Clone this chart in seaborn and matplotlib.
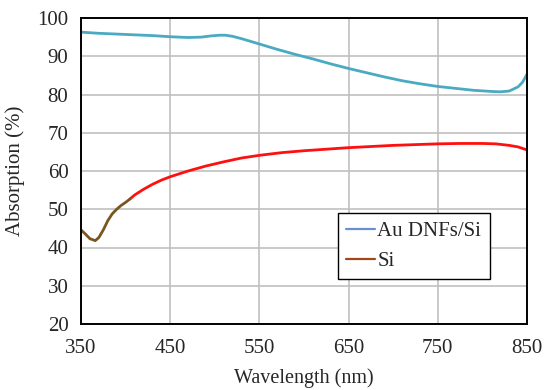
import numpy as np
import pandas as pd
import matplotlib
matplotlib.use('Agg')
import matplotlib.pyplot as plt
from matplotlib.lines import Line2D
import seaborn as sns

# Datos =========================================================================

wl_au = [350, 370, 390, 410, 430, 450, 470, 485, 495, 505, 512, 520, 530, 550, 570,
         590, 610, 630, 650, 670, 690, 710, 730, 750, 770, 790, 810, 820, 830,
         840, 845, 850]
abs_au = [96.3, 96.0, 95.8, 95.6, 95.4, 95.1, 94.9, 95.0, 95.3, 95.5, 95.5, 95.2, 94.6,
          93.2, 91.8, 90.5, 89.3, 88.0, 86.8, 85.7, 84.6, 83.6, 82.8, 82.1, 81.6,
          81.1, 80.8, 80.7, 80.9, 82.0, 83.2, 85.3]

# Si: tramo inicial (color marrón) y el resto (rojo)
wl_si_start = [350, 355, 360, 366, 370, 375, 380, 385, 390, 395, 400, 405]
abs_si_start = [44.6, 43.5, 42.3, 41.8, 42.6, 44.6, 47.0, 48.8, 50.0, 51.0, 51.8, 52.7]

wl_si = [405, 410, 420, 430, 440, 450, 470, 490, 510, 530, 550, 575, 600, 625,
         650, 675, 700, 725, 750, 775, 800, 815, 830, 840, 850]
abs_si = [52.7, 53.7, 55.2, 56.5, 57.6, 58.5, 60.0, 61.3, 62.4, 63.4, 64.1, 64.8,
          65.3, 65.7, 66.1, 66.4, 66.7, 66.9, 67.1, 67.2, 67.2, 67.1, 66.7, 66.3,
          65.5]

x_ticks = [350, 450, 550, 650, 750, 850]
y_ticks = [20, 30, 40, 50, 60, 70, 80, 90, 100]
series_labels = ['Au DNFs/Si', 'Si']

# Estilo ========================================================================

sns.set_style('white')
plt.rcParams['font.family'] = ['Liberation Serif', 'DejaVu Serif']
plt.rcParams['font.size'] = 15

fig, ax = plt.subplots(figsize=(5.5, 3.9), dpi=100)
fig.subplots_adjust(left=81/550, right=527/550, bottom=1 - 324/390, top=1 - 18/390)

df_au = pd.DataFrame({'wl': wl_au, 'abs': abs_au})
df_si0 = pd.DataFrame({'wl': wl_si_start, 'abs': abs_si_start})
df_si = pd.DataFrame({'wl': wl_si, 'abs': abs_si})

sns.lineplot(data=df_au, x='wl', y='abs', ax=ax, color='#4aaac2', linewidth=2.0)
sns.lineplot(data=df_si, x='wl', y='abs', ax=ax, color='#ff1010', linewidth=2.0)
sns.lineplot(data=df_si0, x='wl', y='abs', ax=ax, color='#7a5520', linewidth=2.0)

ax.set_xlim(350, 850)
ax.set_ylim(20, 100)
ax.set_xticks(x_ticks)
ax.set_yticks(y_ticks)
ax.tick_params(axis='both', length=0, labelsize=15)
ax.tick_params(axis='x', pad=11)
ax.tick_params(axis='y', pad=9)
ax.grid(True, color='#c0c0c0', linewidth=1.2)
ax.set_axisbelow(True)
for side in ['top', 'right', 'bottom', 'left']:
    ax.spines[side].set_visible(True)
    ax.spines[side].set_color('black')
    ax.spines[side].set_linewidth(1.4)

ax.set_xlabel('Wavelength (nm)', fontsize=14.5, labelpad=7)
ax.set_ylabel('Absorption (%)', fontsize=15, labelpad=9)

handles = [Line2D([0], [0], color='#6a8fd0', linewidth=1.6),
           Line2D([0], [0], color='#a0481c', linewidth=1.6)]
leg = ax.legend(handles, series_labels, loc='upper left', bbox_to_anchor=(0.576, 0.363),
                borderaxespad=0, fancybox=False, edgecolor='black', framealpha=1,
                fontsize=15, handlelength=1.4, handletextpad=0.1, borderpad=0.4,
                labelspacing=0.5)
leg.get_frame().set_linewidth(1.0)

fig.savefig('out.png', dpi=100)
